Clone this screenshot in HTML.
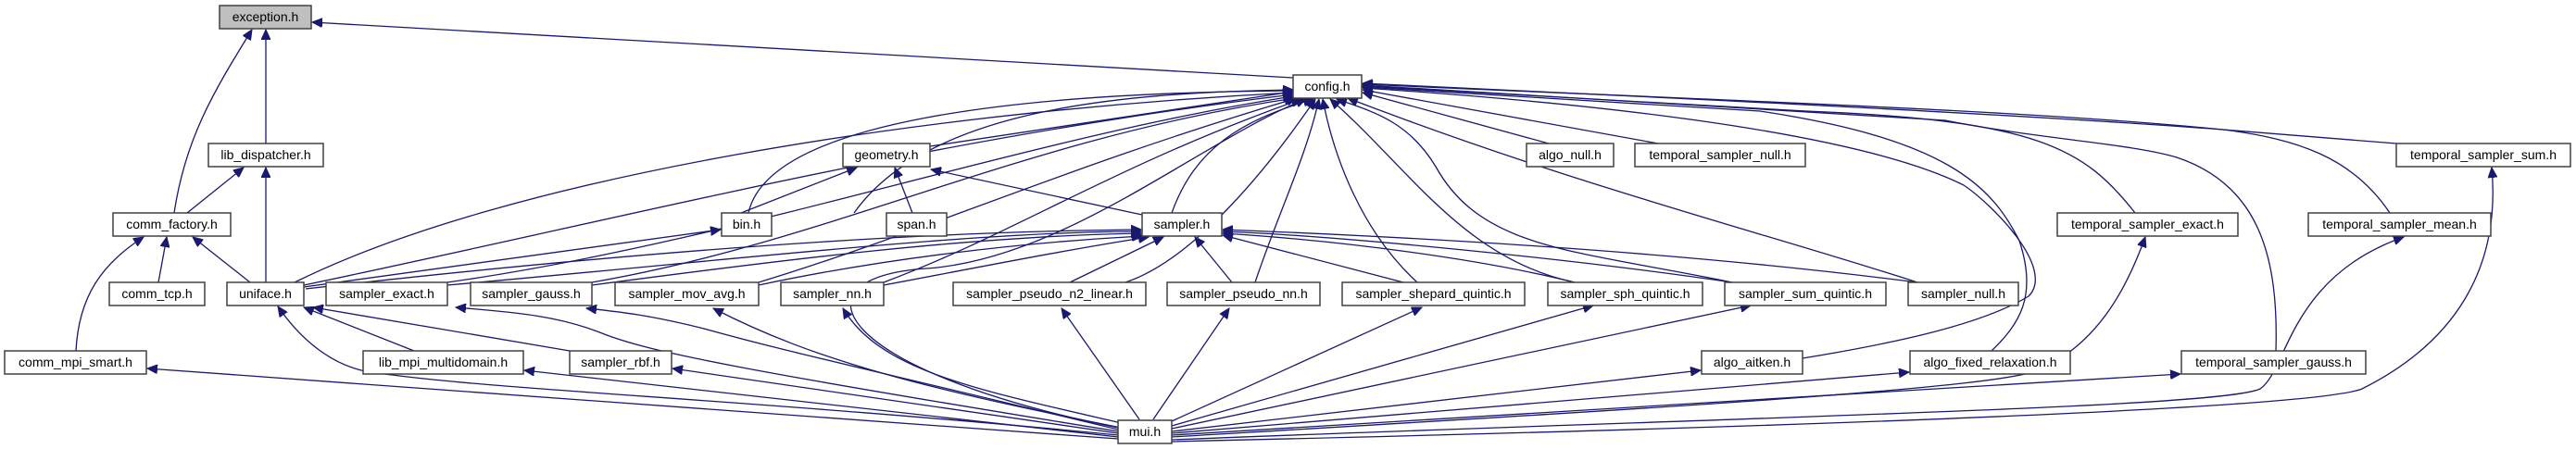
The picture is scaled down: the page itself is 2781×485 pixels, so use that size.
<!DOCTYPE html>
<html><head><meta charset="utf-8"><style>
html,body{margin:0;padding:0;background:#fff;width:2781px;height:485px;overflow:hidden}
svg{display:block}
text{font-family:"Liberation Sans",sans-serif;font-size:14px;fill:#000}
.n{fill:#fff;stroke:#404040;stroke-width:1.5}
.e{fill:none;stroke:#191970;stroke-width:1.3}
</style></head><body>
<svg width="2781" height="485" viewBox="0 0 2781 485" xmlns="http://www.w3.org/2000/svg">
<defs><marker id="a" markerUnits="userSpaceOnUse" markerWidth="12" markerHeight="10" refX="11" refY="5" orient="auto"><path d="M0,0 L11,5 L0,10 z" fill="#191970" stroke="#191970"/></marker></defs>
<g class="e" marker-end="url(#a)">
<path d="M1396,84 L337,24"/>
<path d="M287,155 L287,32"/>
<path d="M188,230 C200,150 230,100 272,32"/>
<path d="M202,230 L263,181"/>
<path d="M171,305 L180,256"/>
<path d="M270,305 L208,256"/>
<path d="M287,305 L287,181"/>
<path d="M82,379 C85,320 110,285 155,256"/>
<path d="M318,305 C550,190 1000,120 1396,100"/>
<path d="M328,308 C700,230 1000,150 1396,102"/>
<path d="M483,305 C800,260 1100,150 1396,104"/>
<path d="M639,305 C900,260 1100,150 1398,106"/>
<path d="M808,230 C830,130 1100,100 1396,98"/>
<path d="M1004,158 L1396,99"/>
<path d="M922,230 C1000,120 1200,100 1396,97"/>
<path d="M819,305 C1000,250 1150,180 1400,106"/>
<path d="M954,305 C1100,250 1200,180 1405,107"/>
<path d="M1207,462 C900,400 850,300 1000,290 C1150,280 1300,150 1410,107"/>
<path d="M1265,230 C1290,160 1340,130 1418,107"/>
<path d="M1215,305 C1290,280 1370,180 1420,107"/>
<path d="M1355,305 C1380,230 1410,170 1424,107"/>
<path d="M1530,305 C1470,250 1440,170 1428,107"/>
<path d="M1700,305 C1580,280 1520,180 1436,107"/>
<path d="M1870,305 C1700,270 1600,270 1550,180 C1520,130 1480,120 1443,107"/>
<path d="M2070,305 C1900,250 1700,200 1455,106"/>
<path d="M1672,155 L1471,100"/>
<path d="M1790,155 L1471,97"/>
<path d="M1946,387 C2050,370 2140,350 2190,320 C2220,290 2150,220 2120,200 C2000,140 1700,110 1471,95"/>
<path d="M2150,379 C2180,350 2200,320 2180,260 C2150,200 2100,150 1900,120 L1471,94"/>
<path d="M2305,230 C2250,160 2200,130 1950,120 L1471,93"/>
<path d="M2457,379 C2460,280 2440,200 2350,170 C2300,155 2200,150 2100,130 L1471,92"/>
<path d="M2580,230 C2540,170 2480,150 2400,140 C2200,120 1900,110 1471,91"/>
<path d="M2587,155 L2400,140 C2200,125 1900,110 1471,90"/>
<path d="M800,230 L925,181"/>
<path d="M985,230 L966,181"/>
<path d="M1233,232 L1005,183"/>
<path d="M328,310 L778,248"/>
<path d="M330,312 C700,270 1000,250 1232,248"/>
<path d="M483,308 C800,280 1050,250 1232,250"/>
<path d="M639,308 C850,280 1050,255 1232,252"/>
<path d="M819,308 C950,280 1100,262 1233,255"/>
<path d="M954,308 C1050,290 1150,270 1240,256"/>
<path d="M1155,305 L1256,256"/>
<path d="M1330,305 L1290,256"/>
<path d="M1515,305 L1320,254"/>
<path d="M1700,305 C1600,280 1450,260 1320,252"/>
<path d="M1870,305 C1700,280 1450,255 1320,250"/>
<path d="M2070,305 C1800,270 1500,255 1320,248"/>
<path d="M615,379 L338,332"/>
<path d="M447,379 L328,332"/>
<path d="M1207,470 C800,430 500,420 390,400 C350,390 320,360 300,331"/>
<path d="M1207,474 L159,398"/>
<path d="M1207,472 L566,400"/>
<path d="M1207,468 L726,398"/>
<path d="M1207,466 C800,400 700,380 650,360 C600,340 550,337 492,332"/>
<path d="M1207,464 C900,390 850,380 760,355 C700,340 670,337 633,333"/>
<path d="M1210,462 C1000,420 880,390 770,333"/>
<path d="M1215,458 C1050,420 950,400 910,333"/>
<path d="M1230,453 L1146,333"/>
<path d="M1245,453 L1327,333"/>
<path d="M1265,455 L1535,332"/>
<path d="M1265,460 L1720,330"/>
<path d="M1265,463 L1890,330"/>
<path d="M1265,466 L1836,400"/>
<path d="M1265,468 L2061,402"/>
<path d="M1265,470 L2354,404"/>
<path d="M1265,472 C1800,440 2150,420 2200,400 C2270,370 2300,300 2316,256"/>
<path d="M1265,475 C1900,450 2400,440 2440,420 C2470,400 2470,300 2595,256"/>
<path d="M1265,477 C2000,460 2500,440 2550,420 C2650,370 2700,290 2690,181"/>
</g>
<g>
<rect x="237" y="6" width="99" height="25" fill="#bfbfbf" stroke="#404040" stroke-width="1.5"/><text x="286.5" y="23" text-anchor="middle">exception.h</text>
<rect class="n" x="1396" y="81" width="74" height="25"/><text x="1433" y="98" text-anchor="middle">config.h</text>
<rect class="n" x="225" y="155" width="124" height="25"/><text x="287" y="172" text-anchor="middle">lib_dispatcher.h</text>
<rect class="n" x="910" y="155" width="94" height="25"/><text x="957" y="172" text-anchor="middle">geometry.h</text>
<rect class="n" x="1648" y="155" width="94" height="25"/><text x="1695" y="172" text-anchor="middle">algo_null.h</text>
<rect class="n" x="1765" y="155" width="184" height="25"/><text x="1857" y="172" text-anchor="middle">temporal_sampler_null.h</text>
<rect class="n" x="2587" y="155" width="188" height="25"/><text x="2681" y="172" text-anchor="middle">temporal_sampler_sum.h</text>
<rect class="n" x="122" y="230" width="127" height="25"/><text x="185.5" y="247" text-anchor="middle">comm_factory.h</text>
<rect class="n" x="779" y="230" width="54" height="25"/><text x="806" y="247" text-anchor="middle">bin.h</text>
<rect class="n" x="957" y="230" width="65" height="25"/><text x="989.5" y="247" text-anchor="middle">span.h</text>
<rect class="n" x="1233" y="230" width="86" height="25"/><text x="1276" y="247" text-anchor="middle">sampler.h</text>
<rect class="n" x="2221" y="230" width="195" height="25"/><text x="2318.5" y="247" text-anchor="middle">temporal_sampler_exact.h</text>
<rect class="n" x="2492" y="230" width="197" height="25"/><text x="2590.5" y="247" text-anchor="middle">temporal_sampler_mean.h</text>
<rect class="n" x="118" y="305" width="103" height="25"/><text x="169.5" y="322" text-anchor="middle">comm_tcp.h</text>
<rect class="n" x="245" y="305" width="83" height="25"/><text x="286.5" y="322" text-anchor="middle">uniface.h</text>
<rect class="n" x="352" y="305" width="131" height="25"/><text x="417.5" y="322" text-anchor="middle">sampler_exact.h</text>
<rect class="n" x="508" y="305" width="131" height="25"/><text x="573.5" y="322" text-anchor="middle">sampler_gauss.h</text>
<rect class="n" x="664" y="305" width="155" height="25"/><text x="741.5" y="322" text-anchor="middle">sampler_mov_avg.h</text>
<rect class="n" x="843" y="305" width="111" height="25"/><text x="898.5" y="322" text-anchor="middle">sampler_nn.h</text>
<rect class="n" x="1029" y="305" width="208" height="25"/><text x="1133" y="322" text-anchor="middle">sampler_pseudo_n2_linear.h</text>
<rect class="n" x="1260" y="305" width="165" height="25"/><text x="1342.5" y="322" text-anchor="middle">sampler_pseudo_nn.h</text>
<rect class="n" x="1449" y="305" width="197" height="25"/><text x="1547.5" y="322" text-anchor="middle">sampler_shepard_quintic.h</text>
<rect class="n" x="1671" y="305" width="167" height="25"/><text x="1754.5" y="322" text-anchor="middle">sampler_sph_quintic.h</text>
<rect class="n" x="1862" y="305" width="174" height="25"/><text x="1949" y="322" text-anchor="middle">sampler_sum_quintic.h</text>
<rect class="n" x="2060" y="305" width="119" height="25"/><text x="2119.5" y="322" text-anchor="middle">sampler_null.h</text>
<rect class="n" x="5" y="379" width="153" height="25"/><text x="81.5" y="396" text-anchor="middle">comm_mpi_smart.h</text>
<rect class="n" x="392" y="379" width="173" height="25"/><text x="478.5" y="396" text-anchor="middle">lib_mpi_multidomain.h</text>
<rect class="n" x="615" y="379" width="110" height="25"/><text x="670" y="396" text-anchor="middle">sampler_rbf.h</text>
<rect class="n" x="1837" y="379" width="109" height="25"/><text x="1891.5" y="396" text-anchor="middle">algo_aitken.h</text>
<rect class="n" x="2062" y="379" width="173" height="25"/><text x="2148.5" y="396" text-anchor="middle">algo_fixed_relaxation.h</text>
<rect class="n" x="2355" y="379" width="199" height="25"/><text x="2454.5" y="396" text-anchor="middle">temporal_sampler_gauss.h</text>
<rect class="n" x="1207" y="454" width="58" height="25"/><text x="1236" y="471" text-anchor="middle">mui.h</text>
</g>
</svg>
</body></html>
